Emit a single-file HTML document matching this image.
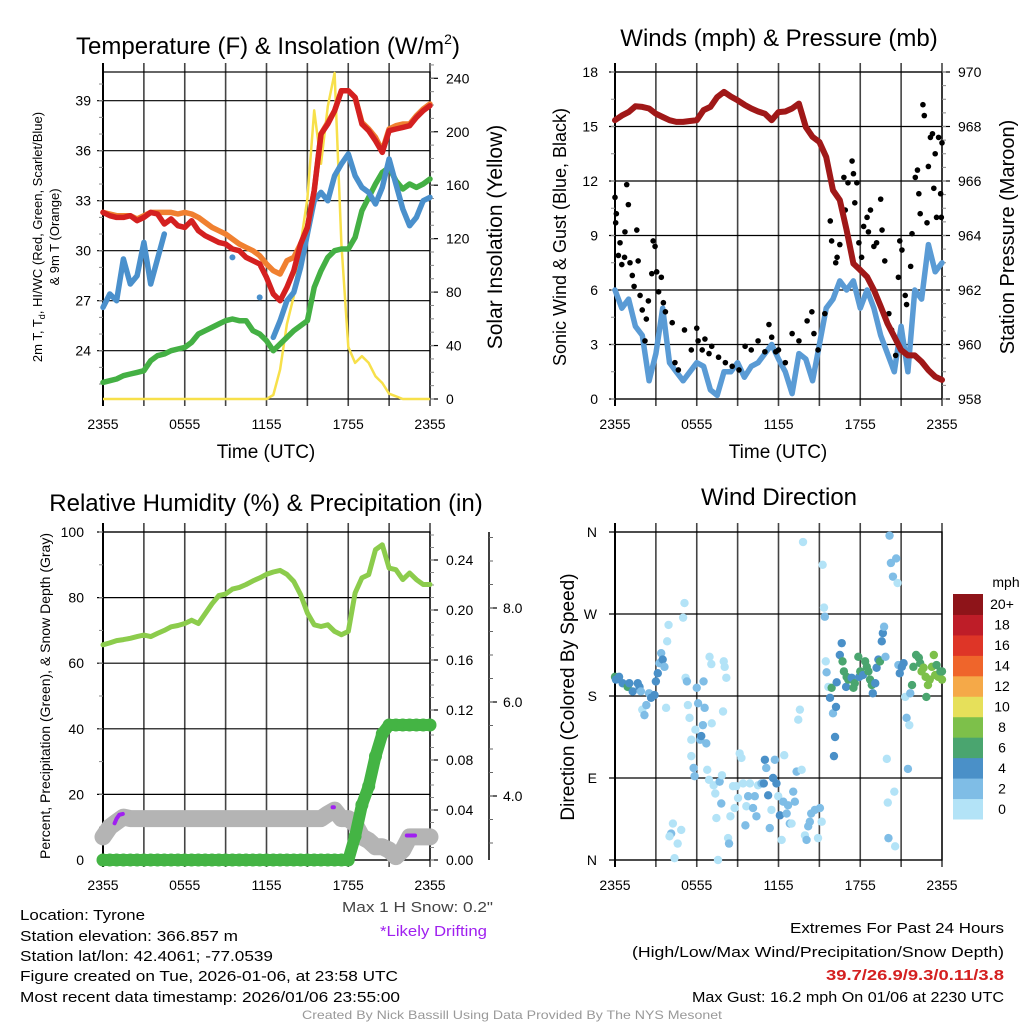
<!DOCTYPE html>
<html><head><meta charset="utf-8"><title>Tyrone Meteogram</title>
<style>
html,body{margin:0;padding:0;background:#fff;}
svg{display:block;font-family:"Liberation Sans",Arial,sans-serif;}
</style></head>
<body>
<svg id="fig" xmlns="http://www.w3.org/2000/svg" width="1024" height="1024" viewBox="0 0 1024 1024">
<rect x="0" y="0" width="1024" height="1024" fill="#fff"/>
<g id="layer"></g>
<!-- titles -->
<text x="268" y="54" font-size="24" text-anchor="middle">Temperature (F) &amp; Insolation (W/m<tspan font-size="14" dy="-10">2</tspan><tspan dy="10">)</tspan></text>
<text x="779" y="46" font-size="24" text-anchor="middle">Winds (mph) &amp; Pressure (mb)</text>
<text x="266" y="511" font-size="24" text-anchor="middle">Relative Humidity (%) &amp; Precipitation (in)</text>
<text x="779" y="505" font-size="24" text-anchor="middle">Wind Direction</text>
<!-- axis titles -->
<text x="266" y="458" font-size="19" text-anchor="middle">Time (UTC)</text>
<text x="778" y="458" font-size="19" text-anchor="middle">Time (UTC)</text>
<text transform="translate(42,237) rotate(-90)" font-size="13" text-anchor="middle">2m T, T<tspan font-size="9" dy="3">d</tspan><tspan dy="-3">, HI/WC (Red, Green, Scarlet/Blue)</tspan></text>
<text transform="translate(59,237) rotate(-90)" font-size="13" text-anchor="middle">&amp; 9m T (Orange)</text>
<text transform="translate(502,237) rotate(-90)" font-size="21" text-anchor="middle">Solar Insolation (Yellow)</text>
<text transform="translate(566,237) rotate(-90)" font-size="18" text-anchor="middle">Sonic Wind &amp; Gust (Blue, Black)</text>
<text transform="translate(1014,237) rotate(-90)" font-size="20" text-anchor="middle">Station Pressure (Maroon)</text>
<text transform="translate(50,696) rotate(-90)" font-size="14" text-anchor="middle">Percent, Precipitation (Green), &amp; Snow Depth (Gray)</text>
<text transform="translate(574,697) rotate(-90)" font-size="19" text-anchor="middle">Direction (Colored By Speed)</text>
<!-- footer -->
<g font-size="15">
<text x="20" y="920" textLength="125" lengthAdjust="spacingAndGlyphs">Location: Tyrone</text>
<text x="20" y="941" textLength="218" lengthAdjust="spacingAndGlyphs">Station elevation: 366.857 m</text>
<text x="20" y="961" textLength="253" lengthAdjust="spacingAndGlyphs">Station lat/lon: 42.4061; -77.0539</text>
<text x="20" y="981" textLength="378" lengthAdjust="spacingAndGlyphs">Figure created on Tue, 2026-01-06, at 23:58 UTC</text>
<text x="20" y="1002" textLength="380" lengthAdjust="spacingAndGlyphs">Most recent data timestamp: 2026/01/06 23:55:00</text>
</g>
<text x="342" y="912" font-size="15" fill="#444" textLength="151" lengthAdjust="spacingAndGlyphs">Max 1 H Snow: 0.2"</text>
<text x="380" y="936" font-size="15" fill="#a020f0" textLength="107" lengthAdjust="spacingAndGlyphs">*Likely Drifting</text>
<g font-size="15">
<text x="790" y="933" textLength="214" lengthAdjust="spacingAndGlyphs">Extremes For Past 24 Hours</text>
<text x="632" y="957" textLength="372" lengthAdjust="spacingAndGlyphs">(High/Low/Max Wind/Precipitation/Snow Depth)</text>
<text x="826" y="980" fill="#d42020" font-weight="bold" textLength="178" lengthAdjust="spacingAndGlyphs">39.7/26.9/9.3/0.11/3.8</text>
<text x="692" y="1002" textLength="312" lengthAdjust="spacingAndGlyphs">Max Gust: 16.2 mph On 01/06 at 2230 UTC</text>
</g>
<text x="512" y="1019" font-size="12" fill="#999" text-anchor="middle" textLength="420" lengthAdjust="spacingAndGlyphs">Created By Nick Bassill Using Data Provided By The NYS Mesonet</text>
</svg>
<script>
// ---------- data (half-hourly, t = 0..24 h from 2355 UTC) ----------
const timeTickLabels = ["2355","0555","1155","1755","2355"];
const timeTickHours = [0,6,12,18,24];
const tempTicks = [24,27,30,33,36,39];
const insolTicks = [0,40,80,120,160,200,240];
const windTicks = [0,3,6,9,12,15,18];
const presTicks = [958,960,962,964,966,968,970];
const rhTicks = [0,20,40,60,80,100];
const precipTicks = [0,0.04,0.08,0.12,0.16,0.20,0.24];
const snowTicks = [4,6,8];
const dirTicks = [0,90,180,270,360];
const dirLabels = ["N","E","S","W","N"];
const speedBins = ["0","2","4","6","8","10","12","14","16","18","20+"];

const temp2m = [32.3,32.1,32.0,32.0,32.1,31.8,32.0,32.3,32.2,31.6,31.9,31.5,31.4,31.8,31.2,30.9,30.7,30.5,30.4,30.1,30.0,29.6,29.4,29.2,28.4,27.4,27.0,27.8,28.8,30.4,31.4,33.6,37.0,37.6,38.4,39.6,39.6,39.2,37.6,37.2,36.6,35.9,37.2,37.3,37.4,37.5,38.0,38.4,38.7];
const temp9m = [32.3,32.2,32.1,32.1,32.1,31.9,32.1,32.3,32.3,32.3,32.3,32.2,32.3,32.2,32.0,31.7,31.4,31.2,31.0,30.7,30.4,30.2,30.0,29.7,29.2,28.8,28.6,29.4,29.6,30.4,31.4,33.6,37.0,37.7,38.4,39.6,39.6,39.2,37.7,37.3,36.8,36.0,37.3,37.5,37.6,37.6,38.1,38.5,38.8];
const dewpoint = [22.1,22.2,22.3,22.5,22.6,22.7,22.8,23.4,23.7,23.8,24.0,24.1,24.2,24.5,25.0,25.2,25.4,25.6,25.8,25.9,25.8,25.8,25.2,25.0,24.6,24.0,24.4,24.8,25.2,25.5,25.8,27.8,28.8,29.6,30.0,30.1,30.1,30.8,32.4,33.2,34.0,34.7,35.0,34.2,33.7,34.0,33.8,34.0,34.3];
const windChill = [26.6,27.4,27.0,29.5,28.0,28.5,30.5,28.0,29.5,31.0,null,null,null,null,null,null,null,null,null,29.6,null,null,null,27.2,null,24.8,25.8,27.0,27.5,29.0,31.0,33.0,33.5,33.0,34.5,35.2,35.8,34.5,33.8,33.5,32.8,33.8,35.5,34.0,32.5,31.5,32.0,33.0,33.2];
const insolation = [0,0,0,0,0,0,0,0,0,0,0,0,0,0,0,0,0,0,0,0,0,0,0,0,0,3,22,56,77,116,150,216,176,219,244,116,39,27,32,27,17,12,4,2,0,0,0,0,0];

const pressure = [968.23,968.4,968.53,968.74,968.72,968.66,968.47,968.35,968.23,968.17,968.17,968.2,968.23,968.6,968.72,969.08,969.27,969.1,968.96,968.8,968.66,968.55,968.47,968.23,968.53,968.55,968.66,968.84,967.98,967.62,967.43,966.88,965.66,965.3,964.2,962.97,962.73,962.48,962.0,961.4,960.77,960.29,959.8,959.6,959.6,959.37,959.06,958.82,958.7];
const windSpeed = [6,5,5.5,4,3.5,1,2.5,5,2,1.5,1,1.5,2,1.8,0.5,0.2,1.5,1.5,2,1.2,1.8,2,2.5,3,2.2,1.5,0.3,2.5,2.2,1,3,5,5.5,6.5,6,6.5,5,6,5,3.5,2.5,1.5,4,1.5,6,5.5,8.5,7,7.5];
const gustHours = [0,0.05,0.1,0.25,0.37,0.5,0.7,0.73,0.86,0.98,1.1,1.27,1.4,1.6,1.7,1.84,2.0,2.2,2.3,2.45,2.7,2.8,2.94,3.06,3.2,3.4,3.55,3.7,4.2,4.4,4.65,5.1,5.6,6.0,6.1,6.4,6.6,6.9,7.1,7.6,8.1,8.6,9.1,9.55,10.0,10.5,11.0,11.3,11.5,11.8,12.0,12.5,13.0,13.5,14.1,14.45,14.6,14.9,15.4,15.8,15.9,16.2,16.3,16.5,16.8,16.9,17.1,17.4,17.5,17.6,17.75,17.9,18.1,18.25,18.5,18.6,18.75,19.0,19.2,19.5,19.6,19.8,20.1,20.3,20.6,20.8,20.9,21.06,21.3,21.4,21.7,21.8,22.04,22.2,22.3,22.4,22.6,22.7,22.9,23.0,23.15,23.3,23.4,23.5,23.6,23.75,23.9,23.95,24];
const gustSpeed = [11.1,9.7,10.2,7.9,8.6,7.4,7.8,9.2,11.8,10.7,7.5,6.8,6.2,9.3,7.6,5.7,4.9,3.2,4.4,5.4,6.9,8.7,8.4,7.0,5.9,6.7,5.3,4.8,4.2,2.0,1.6,3.8,2.7,3.9,3.2,2.7,3.3,2.5,2.9,2.3,2.0,1.8,1.6,2.9,2.7,3.2,2.6,4.1,3.4,2.6,2.7,2.0,3.6,3.2,4.3,4.8,3.6,2.7,4.7,9.8,8.7,7.5,7.8,8.5,12.2,10.4,11.9,13.1,12.4,10.8,11.9,8.6,7.8,9.5,10.0,9.2,10.4,8.4,8.6,11.0,9.3,7.6,4.7,3.8,2.4,6.7,8.7,8.2,5.7,5.2,7.3,9.1,12.2,12.6,11.3,10.2,16.2,15.6,9.7,12.8,14.4,14.6,11.6,13.5,10.0,14.4,11.3,10.0,14.1];

const relHumidity = [65.6,66.2,66.9,67.2,67.6,68.1,68.6,68.1,69.1,70,71.1,71.5,72.1,73.1,72.1,75.1,78.1,80.6,81.1,82.6,83.1,84,85.1,86,87.1,87.8,88.3,87.1,84.9,80.9,75.3,71.7,71.2,71.7,69.7,68.7,69.7,81.4,86,87,94.6,96.1,89,88.5,85.5,87.5,85.5,84,84];
const precipAccum = [0,0,0,0,0,0,0,0,0,0,0,0,0,0,0,0,0,0,0,0,0,0,0,0,0,0,0,0,0,0,0,0,0,0,0,0,0,0.019,0.044,0.059,0.083,0.101,0.108,0.108,0.108,0.108,0.108,0.108,0.108];
const snowDepth = [3.13,3.34,3.45,3.55,3.52,3.52,3.52,3.52,3.52,3.52,3.52,3.52,3.52,3.52,3.52,3.52,3.52,3.52,3.52,3.52,3.52,3.52,3.52,3.52,3.52,3.52,3.52,3.52,3.52,3.52,3.52,3.52,3.52,3.62,3.70,3.52,3.52,3.40,3.13,3.05,2.92,2.92,2.85,2.71,2.85,3.13,3.13,3.13,3.13];
const driftHours = [[0.85,1.0,1.2,1.45],[16.85,16.95],[22.3,22.9]];
const driftSnow = [[3.42,3.52,3.60,3.62],[3.76,3.76],[3.16,3.16]];

const dirHours = [0,0.07,0.3,0.56,0.93,1.05,1.3,1.67,1.8,1.9,2.0,2.16,2.3,2.5,2.65,2.9,3.0,3.14,3.26,3.39,3.5,3.63,3.75,3.83,3.93,4.12,4.0,4.25,4.37,4.6,4.86,5.0,5.1,5.18,5.28,5.35,5.47,5.6,5.6,5.77,5.84,5.9,6.0,6.1,6.26,6.33,6.45,6.5,6.58,6.7,6.77,6.9,6.94,7.07,7.1,7.24,7.36,7.44,7.56,7.68,7.8,7.85,7.93,7.98,8.05,8.17,8.3,8.37,8.47,8.66,8.78,8.9,9.03,9.15,9.28,9.4,9.57,9.64,9.77,9.9,10.13,10.26,10.38,10.5,10.75,10.92,11.0,11.1,11.24,11.36,11.48,11.6,11.73,11.85,11.98,12.1,12.23,12.35,12.42,12.6,12.7,12.83,12.96,13.08,13.2,13.33,13.45,13.57,13.7,13.8,13.94,14.06,14.18,14.3,14.4,14.67,14.9,15.04,15.17,15.24,15.34,15.4,15.47,15.53,15.66,15.78,15.9,16.0,16.15,16.07,16.22,16.27,16.5,16.64,16.7,16.8,16.96,17.0,17.12,17.37,17.5,17.6,17.86,17.93,18.0,18.2,18.36,18.48,18.6,18.72,18.85,18.92,19.1,19.2,19.33,19.45,19.58,19.66,19.75,19.85,19.95,20.02,20.07,20.15,20.25,20.4,20.64,20.74,20.5,20.56,20.8,20.9,21.05,21.18,21.3,21.4,21.5,21.6,21.67,21.8,21.9,22.1,22.3,22.4,22.5,22.65,22.8,22.85,22.97,23.1,23.26,23.4,23.5,23.6,23.73,23.88,24,24.0];
const dirDegrees = [201,198,201,194,190,194,185,194,190,185,165,159,170,183,178,181,196,205,216,227,220,212,167,240,258,29,26,40,2,18,33,266,282,200,196,170,156,132,114,101,92,143,189,172,132,136,148,196,167,128,99,88,223,215,150,82,73,46,0,86,62,93,163,218,212,200,24,18,48,81,57,81,68,117,112,84,38,59,70,84,57,70,48,82,84,84,110,101,71,35,55,90,110,84,70,49,22,64,115,51,60,40,40,75,64,97,154,165,99,349,27,22,37,42,51,55,24,57,42,324,277,267,218,206,190,178,189,161,135,114,168,195,225,238,218,207,190,201,198,200,189,194,223,201,207,203,218,212,207,198,192,183,194,211,220,218,240,249,256,223,111,63,24,356,326,311,331,304,75,15,214,205,212,216,179,156,100,148,183,192,212,225,222,216,207,211,201,179,192,198,212,225,203,214,201,207,198,207];
const dirSpeed = [7,5,5,5,7,5,4,5,5,3,1,3,3,3,5,5,5,5,3,3,5,3,1,1,1,3,1,1,1,1,1,1,1,1,3,1,1,1,1,3,3,1,3,3,3,5,3,3,3,3,1,1,1,1,1,1,1,1,1,3,3,1,1,1,1,1,1,3,1,1,1,1,1,1,1,1,3,1,3,1,3,3,3,1,3,5,5,3,5,3,1,5,3,5,1,5,1,3,1,3,3,3,1,3,3,3,1,1,1,1,1,3,3,3,3,3,1,3,1,1,1,3,1,3,1,5,7,3,5,5,5,5,5,5,7,7,5,7,7,5,7,7,7,5,7,5,7,7,7,7,7,5,5,5,5,7,5,5,3,3,1,1,3,3,3,3,3,1,1,1,3,5,5,5,1,3,3,1,3,7,7,7,7,7,9,9,9,7,9,9,9,9,9,7,9,7,9,7];

const binColors = ["#b3e3f7","#7fbde6","#4a90c8","#4aa56f","#7dc04a","#e6e05a","#f5a948","#ef652b","#de3527","#be1d28","#8e1419"];

// ---------- helpers ----------
const NS = "http://www.w3.org/2000/svg";
const layer = document.getElementById("layer");
function mk(tag, attrs, parent){
  const el = document.createElementNS(NS, tag);
  for (const k in attrs) el.setAttribute(k, attrs[k]);
  (parent || layer).appendChild(el);
  return el;
}
function lin(d0,d1,r0,r1){ return v => r0 + (v-d0)/(d1-d0)*(r1-r0); }
function hours(n){ const a=[]; for(let i=0;i<n;i++) a.push(i*0.5); return a; }
const H = hours(49);

function pathFrom(xs, ys, X, Y){
  let d = "", pen = false;
  for (let i=0;i<xs.length;i++){
    if (ys[i]===null || ys[i]===undefined){ pen=false; continue; }
    d += (pen ? "L" : "M") + X(xs[i]).toFixed(1) + "," + Y(ys[i]).toFixed(1);
    pen = true;
  }
  return d;
}

function frame(name, x0, x1, y0, y1){
  const g = mk("g", {});
  
  
  const X = lin(0,24,x0,x1);
  for (let h=0; h<=24; h+=3){
    const ln = mk("line", {x1:X(h), x2:X(h), y1:y0-9, y2:y1+7, stroke:"#444", "stroke-width":1.6}, g);
    
    
  }
  timeTickHours.forEach((h,i)=>{
    const t = mk("text", {x:X(h), y:y1+30, "font-size":14, "text-anchor":"middle"}, g);
    
    
    t.textContent = timeTickLabels[i];
  });
  const bx = mk("rect", {x:x0, y:y0, width:x1-x0, height:y1-y0, fill:"none", stroke:"#000", "stroke-width":1.2}, g);
  
  
  const lb = mk("line", {x1:x0, x2:x0, y1:y0-9, y2:y1+7, stroke:"#000", "stroke-width":2}, g);
  
  
  return {g, X};
}
function leftAxis(g, ticks, labels, Y, x0, x1, minorStep, lo, hi, lx){
  ticks.forEach((v,i)=>{
    const ln = mk("line", {x1:x0-6, x2:x1, y1:Y(v), y2:Y(v), stroke:"#000", "stroke-width":1.2}, g);
    
    
    const t = mk("text", {x:lx, y:Y(v)+5, "font-size":14, "text-anchor":"end"}, g);
    
    
    t.textContent = labels ? labels[i] : String(v);
  });
  if (minorStep){
    for (let v=lo; v<=hi+1e-9; v+=minorStep){
      const ln = mk("line", {x1:x0-4, x2:x0, y1:Y(v), y2:Y(v), stroke:"#888", "stroke-width":1}, g);
      
      
    }
  }
}
function rightAxis(g, ticks, fmt, Y, x1, minorStep, lo, hi, name){
  ticks.forEach(v=>{
    const ln = mk("line", {x1:x1, x2:x1+8, y1:Y(v), y2:Y(v), stroke:"#000", "stroke-width":1.2}, g);
    
    
    const t = mk("text", {x:x1+16, y:Y(v)+5, "font-size":14}, g);
    
    
    t.textContent = fmt(v);
  });
  for (let v=lo; v<=hi+1e-9; v+=minorStep){
    const ln = mk("line", {x1:x1, x2:x1+4, y1:Y(v), y2:Y(v), stroke:"#888", "stroke-width":1}, g);
    
    
  }
}

// ---------- Panel 1: temperature ----------
(function(){
  const x0=103,x1=430,y0=72,y1=399;
  const {g,X} = frame('temperature-panel', x0,x1,y0,y1);
  const Y = lin(24,39,350.7,100.7);
  const Yr = lin(0,240,399,78.3);
  leftAxis(g, tempTicks, null, Y, x0,x1, 1, 22, 40, 91);
  rightAxis(g, insolTicks, v=>String(v), Yr, x1, 10, 0, 250, 'insolation');
  const yl = mk("path", {d:pathFrom(H, insolation, X, Yr), fill:"none", stroke:"#f7e04a", "stroke-width":2.5, "stroke-linejoin":"round"}, g);
  
  
  const dw = mk("path", {d:pathFrom(H, dewpoint, X, Y), fill:"none", stroke:"#44b044", "stroke-width":5.5, "stroke-linejoin":"round", "stroke-linecap":"round"}, g);
  
  
  const wc = mk("path", {d:pathFrom(H, windChill, X, Y), fill:"none", stroke:"#4a90cc", "stroke-width":5.5, "stroke-linejoin":"round", "stroke-linecap":"round"}, g);
  
  
  windChill.forEach((v,i)=>{
    if (v===null) return;
    if ((i>0 && windChill[i-1]!==null) || (i<48 && windChill[i+1]!==null)) return;
    const c = mk("circle", {cx:X(H[i]), cy:Y(v), r:3, fill:"#4a90cc"}, g);
    
    
  });
  const t9 = mk("path", {d:pathFrom(H, temp9m, X, Y), fill:"none", stroke:"#f08030", "stroke-width":5.5, "stroke-linejoin":"round", "stroke-linecap":"round"}, g);
  
  
  const t2 = mk("path", {d:pathFrom(H, temp2m, X, Y), fill:"none", stroke:"#d42020", "stroke-width":5.5, "stroke-linejoin":"round", "stroke-linecap":"round"}, g);
  
  
})();

// ---------- Panel 2: winds & pressure ----------
(function(){
  const x0=615,x1=942,y0=72,y1=399;
  const {g,X} = frame('wind-panel', x0,x1,y0,y1);
  const Y = lin(0,18,399,72);
  const Yr = lin(958,970,399,72);
  leftAxis(g, windTicks, null, Y, x0,x1, 1.5, 0, 18, 598);
  rightAxis(g, presTicks, v=>String(v), Yr, x1, 0.5, 958, 970, 'pressure');
  const ws = mk("path", {d:pathFrom(H, windSpeed, X, Y), fill:"none", stroke:"#5a9bd5", "stroke-width":5.5, "stroke-linejoin":"round", "stroke-linecap":"round"}, g);
  
  
  gustHours.forEach((h,i)=>{
    const c = mk("circle", {cx:X(h), cy:Y(gustSpeed[i]), r:2.8, fill:"#000"}, g);
    
    
  });
  const pr = mk("path", {d:pathFrom(H, pressure, X, Yr), fill:"none", stroke:"#a01818", "stroke-width":6, "stroke-linejoin":"round", "stroke-linecap":"round"}, g);
  
  
})();

// ---------- Panel 3: humidity, precip, snow ----------
(function(){
  const x0=103,x1=430,y0=532,y1=860;
  const {g,X} = frame('humidity-panel', x0,x1,y0,y1);
  const Y = lin(0,100,860,532);
  const Yr = lin(0,0.24,860,560);
  const Ys = lin(4,6,796,702);
  leftAxis(g, rhTicks, null, Y, x0,x1, 10, 0, 100, 84);
  rightAxis(g, precipTicks, v=>v.toFixed(2), Yr, x1, 0.01, 0, 0.26, 'precip');
  const sa = mk("line", {x1:489, x2:489, y1:532, y2:860, stroke:"#000", "stroke-width":1.5}, g);
  
  
  snowTicks.forEach(v=>{
    const ln = mk("line", {x1:489, x2:497, y1:Ys(v), y2:Ys(v), stroke:"#000", "stroke-width":1.2}, g);
    
    
    const t = mk("text", {x:503, y:Ys(v)+5, "font-size":14}, g);
    
    
    t.textContent = v.toFixed(1);
  });
  for (let v=2.5; v<=9.5; v+=0.5){
    if (Ys(v)<532||Ys(v)>860) continue;
    const ln = mk("line", {x1:489, x2:493, y1:Ys(v), y2:Ys(v), stroke:"#666", "stroke-width":1}, g);
    
    
  }
  const rh = mk("path", {d:pathFrom(H, relHumidity, X, Y), fill:"none", stroke:"#8ccc4c", "stroke-width":5, "stroke-linejoin":"round", "stroke-linecap":"round"}, g);
  
  
  const sn = mk("path", {d:pathFrom(H, snowDepth, X, Ys), fill:"none", stroke:"#b4b4b4", "stroke-width":17, "stroke-linejoin":"round", "stroke-linecap":"round"}, g);
  
  
  const pc = mk("path", {d:pathFrom(H, precipAccum, X, Yr), fill:"none", stroke:"#44b444", "stroke-width":12, "stroke-linejoin":"round", "stroke-linecap":"round"}, g);
  
  
  precipAccum.forEach((v,i)=>{
    const c = mk("circle", {cx:X(H[i]), cy:Yr(v), r:6.5, fill:"#44b444"}, g);
    
    
  });
  driftHours.forEach((hs,k)=>{
    const p = mk("path", {d:pathFrom(hs, driftSnow[k], X, Ys), fill:"none", stroke:"#a020f0", "stroke-width":4, "stroke-linecap":"round"}, g);
    
    
  });
})();

// ---------- Panel 4: wind direction ----------
(function(){
  const x0=615,x1=942,y0=532,y1=860;
  const {g,X} = frame('direction-panel', x0,x1,y0,y1);
  const Y = lin(0,360,860,532);
  leftAxis(g, dirTicks, dirLabels, Y, x0,x1, 0, 0, 0, 597);
  dirHours.forEach((h,i)=>{
    const bin = Math.min(10, Math.floor(dirSpeed[i]/2));
    const c = mk("circle", {cx:X(h), cy:Y(dirDegrees[i]), r:4.2, fill:binColors[bin]}, g);
    
    
  });
  const cb = mk("g", {}, g);
  
  
  const top=594, bot=819, cw=(bot-top)/11;
  speedBins.forEach((lab,i)=>{
    const yy = bot-(i+1)*cw;
    const r = mk("rect", {x:953, y:yy, width:30, height:cw+0.5, fill:binColors[i]}, cb);
    
    
    const t = mk("text", {x:1002, y:yy+cw/2+5, "font-size":14, "text-anchor":"middle"}, cb);
    
    
    t.textContent = lab;
  });
  const u = mk("text", {x:1006, y:587, "font-size":14, "text-anchor":"middle"}, cb);
  
  
  u.textContent = "mph";
})();
</script>
</body></html>
